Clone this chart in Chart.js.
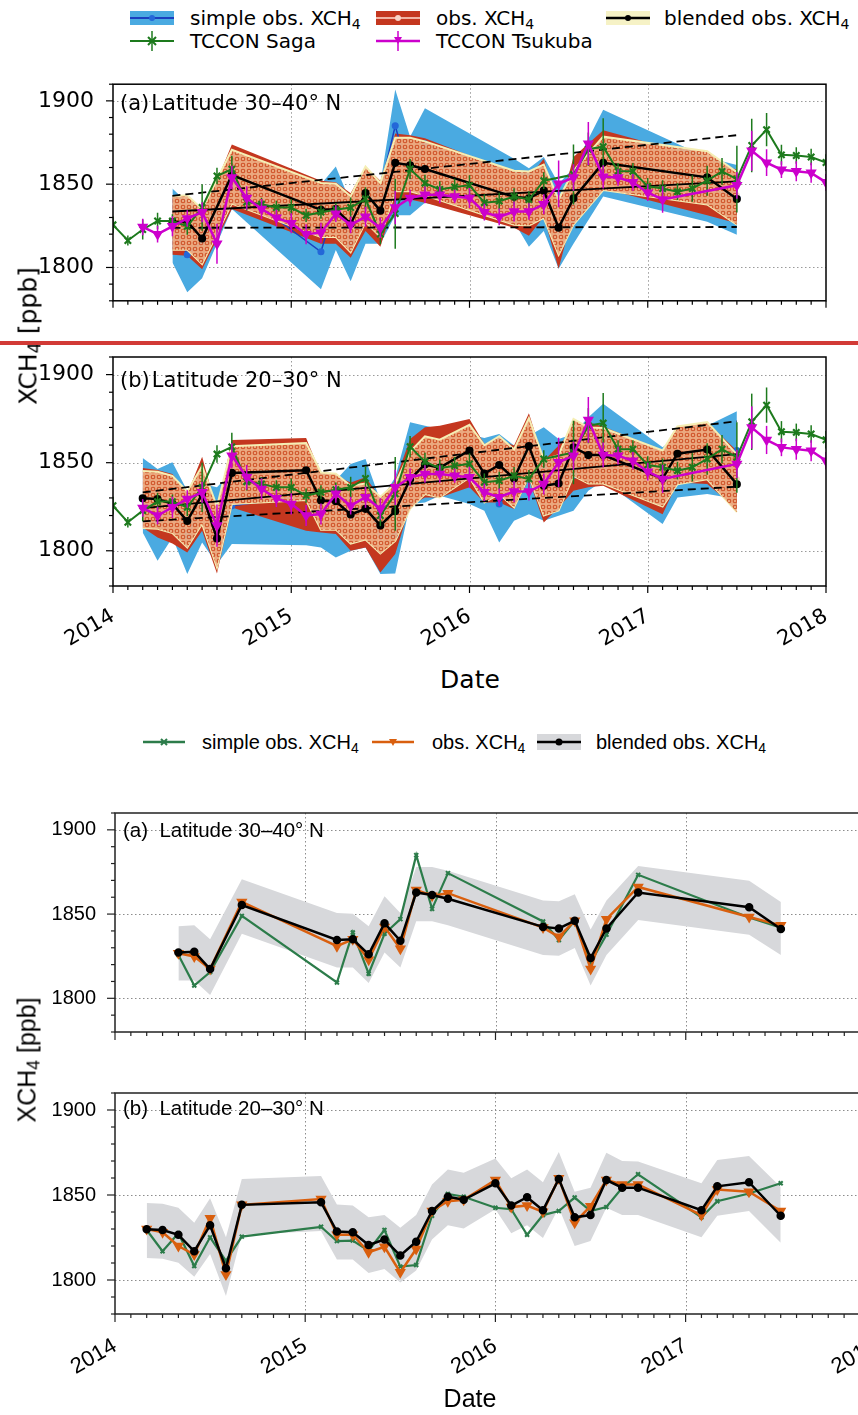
<!DOCTYPE html>
<html>
<head>
<meta charset="utf-8">
<script src="https://cdn.jsdelivr.net/npm/chart.js@4.4.1/dist/chart.umd.min.js"></script>
<style>
html, body { margin: 0; padding: 0; background: #fff; }
#page { position: relative; width: 858px; height: 1415px; overflow: hidden; background: #fff; }
canvas { position: absolute; left: 0; }
.t { position: absolute; white-space: nowrap; color: #000; line-height: 1; transform: translateY(-50%); }
.dv { font-family: 'DejaVu Sans', sans-serif; }
.lb { font-family: 'Liberation Sans', Arial, sans-serif; }
.yt { transform: translate(-50%, -50%) rotate(-90deg); }
.cx { transform: translate(-50%, -50%); }
sub { font-size: 0.7em; vertical-align: -0.25em; line-height: 0; }
svg { position: absolute; }
#redline { position: absolute; left: 0; top: 341px; width: 858px; height: 4px; background: #d23a36; }
</style>
</head>
<body>
<div id="page">
  <canvas id="topA" width="858" height="265" style="top:60px"></canvas>
  <canvas id="topB" width="858" height="330" style="top:330px"></canvas>
  <canvas id="botA" width="900" height="265" style="top:790px"></canvas>
  <canvas id="botB" width="900" height="315" style="top:1070px"></canvas>

  <!-- top legend -->
  <svg style="left:130px;top:9px" width="44" height="18"><rect x="0" y="2" width="44" height="14" fill="#4aaae1"/><line x1="0" y1="9" x2="44" y2="9" stroke="#1a3fbf" stroke-width="2"/><circle cx="22" cy="9" r="3" fill="#2468d8"/></svg>
  <div class="t dv" style="left:190px;top:18px;font-size:20px">simple obs. XCH<sub>4</sub></div>
  <svg style="left:376px;top:9px" width="44" height="18"><rect x="0" y="2" width="44" height="14" fill="#c4371f"/><line x1="0" y1="9" x2="44" y2="9" stroke="#f0b4a4" stroke-width="2"/><circle cx="22" cy="9" r="3" fill="#f8d4c8"/></svg>
  <div class="t dv" style="left:436px;top:18px;font-size:20px">obs. XCH<sub>4</sub></div>
  <svg style="left:606px;top:9px" width="44" height="18"><rect x="0" y="2" width="44" height="14" fill="#f6f2c6"/><line x1="0" y1="9" x2="44" y2="9" stroke="#000" stroke-width="2.5"/><circle cx="22" cy="9" r="3" fill="#000"/></svg>
  <div class="t dv" style="left:664px;top:18px;font-size:20px">blended obs. XCH<sub>4</sub></div>
  <svg style="left:130px;top:31px" width="44" height="20"><line x1="0" y1="10" x2="44" y2="10" stroke="#1d7a1d" stroke-width="2"/><line x1="22" y1="0" x2="22" y2="20" stroke="#1d7a1d" stroke-width="1.5"/><path d="M18 6 L26 14 M26 6 L18 14" stroke="#1d7a1d" stroke-width="2"/></svg>
  <div class="t dv" style="left:190px;top:41px;font-size:20px">TCCON Saga</div>
  <svg style="left:376px;top:31px" width="44" height="20"><line x1="0" y1="10" x2="44" y2="10" stroke="#cc00cc" stroke-width="2.5"/><line x1="22" y1="0" x2="22" y2="20" stroke="#cc00cc" stroke-width="1.5"/><path d="M18 6 L26 6 L22 13 Z" fill="#cc00cc"/></svg>
  <div class="t dv" style="left:436px;top:41px;font-size:20px">TCCON Tsukuba</div>

  <div class="t dv" style="left:120px;top:103px;font-size:21px">(a)&#8202;Latitude 30–40° N</div>
  <div class="t dv" style="left:120px;top:380px;font-size:21px">(b)&#8202;Latitude 20–30° N</div>
  <div class="t dv yt" style="left:28px;top:336px;font-size:25px">XCH<sub>4</sub> [ppb]</div>
  <div class="t dv cx" style="left:470px;top:679px;font-size:25px">Date</div>

  <div id="redline"></div>

  <!-- bottom legend -->
  <svg style="left:143px;top:734px" width="42" height="16"><line x1="0" y1="8" x2="42" y2="8" stroke="#2c7c4a" stroke-width="2.5"/><path d="M18 5 L24 11 M24 5 L18 11" stroke="#2c7c4a" stroke-width="2"/></svg>
  <div class="t lb" style="left:202px;top:742px;font-size:20px">simple obs. XCH<sub>4</sub></div>
  <svg style="left:372px;top:734px" width="42" height="16"><line x1="0" y1="8" x2="42" y2="8" stroke="#d95f0e" stroke-width="2.5"/><path d="M17 5 L25 5 L21 12 Z" fill="#d95f0e"/></svg>
  <div class="t lb" style="left:432px;top:742px;font-size:20px">obs. XCH<sub>4</sub></div>
  <svg style="left:537px;top:734px" width="44" height="16"><rect x="0" y="0" width="44" height="16" fill="#d7d8db"/><line x1="0" y1="8" x2="44" y2="8" stroke="#000" stroke-width="2.5"/><circle cx="22" cy="8" r="3.5" fill="#000"/></svg>
  <div class="t lb" style="left:596px;top:742px;font-size:20px">blended obs. XCH<sub>4</sub></div>

  <div class="t lb" style="left:123px;top:830px;font-size:20.5px">(a)&nbsp; Latitude 30–40° N</div>
  <div class="t lb" style="left:123px;top:1108px;font-size:20.5px">(b)&nbsp; Latitude 20–30° N</div>
  <div class="t lb yt" style="left:27px;top:1060px;font-size:25px">XCH<sub>4</sub> [ppb]</div>
  <div class="t lb cx" style="left:470px;top:1398px;font-size:25px">Date</div>
</div>

<script>
// axis ticks
const yearTicks = [2014, 2015, 2016, 2017, 2018];
const ppbTicks = [1800, 1850, 1900];

// satellite months, 30-40 N
const monthsA = ['2014-05','2014-06','2014-07','2014-09','2015-03','2015-04','2015-05','2015-06','2015-07','2015-08',
                 '2015-09','2015-10','2016-04','2016-05','2016-06','2016-07','2016-08','2016-10','2017-05','2017-07'];
const simpleA = [1825.7,1807.6,1815.6,1848.9,1809.4,1839.1,1814.6,1838.3,1847.0,1885.0,1853.1,1874.3,1845.6,1834.6,1846.1,1821.1,1837.8,1873.3,1848.0,1841.9];
const obsA    = [1826.7,1824.8,1817.4,1857.2,1830.9,1835.0,1822.9,1842.4,1829.4,1864.3,1860.9,1862.4,1842.0,1836.5,1846.1,1817.4,1847.0,1866.1,1848.3,1843.3];
const blendA  = [1827.2,1827.6,1817.4,1855.4,1834.6,1835.0,1826.1,1844.6,1834.1,1862.8,1861.3,1859.1,1842.4,1841.5,1846.1,1823.9,1841.5,1862.8,1854.1,1841.1];
const simpleUpA = [1847.4,1838.9,1832.0,1866.0,1850.0,1860.6,1838.9,1860.6,1850.2,1906.8,1878.5,1895.5,1865.3,1859.6,1866.3,1850.2,1859.6,1894.6,1866.0,1861.5];
const simpleLoA = [1803.0,1785.1,1793.5,1835.1,1787.0,1810.5,1791.7,1814.3,1814.3,1831.3,1831.3,1838.9,1827.5,1812.5,1821.9,1799.2,1814.3,1842.6,1827.5,1819.6];
const obsUpA  = [1843.6,1838.9,1830.4,1873.8,1852.1,1851.1,1844.5,1860.6,1852.1,1880.4,1879.4,1877.6,1856.8,1854.0,1865.3,1833.2,1866.3,1882.3,1865.3,1858.7];
const obsLoA  = [1807.7,1807.1,1798.9,1835.1,1814.3,1814.3,1805.8,1821.9,1812.5,1840.8,1840.8,1838.9,1823.8,1819.0,1830.4,1799.2,1833.2,1847.4,1831.3,1826.6];
const blendUpA = [1842.8,1843.3,1835.0,1870.6,1850.7,1850.2,1842.8,1860.6,1850.7,1877.9,1877.9,1875.7,1858.1,1857.6,1861.8,1840.9,1858.1,1878.5,1869.8,1857.2];
const blendLoA = [1810.6,1810.6,1802.0,1838.3,1818.3,1818.3,1809.1,1827.2,1818.3,1845.7,1845.7,1843.3,1825.7,1825.2,1829.8,1807.6,1825.7,1846.5,1837.8,1825.7];

// satellite months, 20-30 N
const monthsB = ['2014-03','2014-04','2014-05','2014-06','2014-07','2014-08','2014-09',
                 '2015-02','2015-03','2015-04','2015-05','2015-06','2015-07','2015-08','2015-09','2015-10','2015-11',
                 '2016-01','2016-02','2016-03','2016-04','2016-05','2016-06','2016-07','2016-08','2016-09','2016-10',
                 '2017-02','2017-03','2017-05','2017-07'];
const simpleB = [1829.4,1816.9,1827.5,1808.2,1825.1,1811.2,1825.5, 1831.3,1822.9,1823.2,1817.2,1829.4,1807.9,1808.8,1837.8,1850.6,1849.0,
                 1842.5,1841.6,1826.6,1838.2,1840.6,1848.5,1840.6,1842.9,1854.3,1862.2, 1836.9,1846.3,1850.9,1856.9];
const obsB    = [1830.0,1828.1,1820.0,1815.0,1836.3,1803.2,1844.2, 1847.6,1826.6,1826.6,1816.3,1819.5,1804.5,1818.2,1840.6,1846.3,1847.2,
                 1858.8,1842.9,1843.8,1840.1,1859.9,1833.7,1843.4,1858.8,1856.2,1856.2, 1838.2,1853.2,1851.9,1840.6];
const blendB  = [1829.8,1829.4,1826.6,1816.9,1832.2,1806.9,1844.2, 1845.7,1828.5,1828.1,1820.6,1823.8,1814.4,1822.5,1840.6,1849.0,1847.2,
                 1856.9,1843.8,1848.7,1841.0,1859.4,1836.9,1838.2,1858.8,1854.3,1854.3, 1841.0,1855.1,1857.5,1837.8];
const simpleUpB = [1852.7,1846.4,1850.2,1834.1,1837.9,1836.0,1845.0, 1850.0,1845.0,1840.0,1849.2,1852.1,1828.4,1841.7,1872.9,1871.0,1869.1,
                   1866.0,1864.0,1866.3,1859.7,1865.3,1870.1,1863.5,1866.3,1875.8,1883.4, 1858.7,1865.3,1871.0,1879.2];
const simpleLoB = [1810.4,1794.3,1807.6,1786.8,1804.7,1792.4,1803.8, 1803.2,1801.9,1796.2,1800.0,1801.9,1786.8,1787.1,1826.5,1827.4,1831.2,
                   1826.5,1822.7,1804.7,1817.0,1820.8,1817.0,1819.9,1822.7,1834.1,1839.8, 1815.2,1830.3,1832.2,1829.4];
const obsUpB  = [1847.0,1845.8,1843.6,1832.2,1853.4,1822.7,1862.9, 1864.0,1843.6,1842.4,1838.8,1841.7,1830.3,1839.8,1863.5,1870.1,1871.0,
                 1874.8,1860.6,1862.9,1859.7,1878.0,1851.1,1859.7,1869.1,1872.9,1870.5, 1856.8,1870.1,1872.9,1856.8];
const obsLoB  = [1813.2,1807.6,1804.1,1799.0,1811.4,1787.1,1824.6, 1811.4,1810.4,1809.5,1800.0,1801.9,1787.7,1798.1,1825.6,1830.3,1830.3,
                 1836.0,1827.4,1827.4,1823.7,1840.7,1816.1,1824.6,1834.1,1836.0,1836.9, 1820.8,1838.8,1837.9,1823.7];
const blendUpB = [1845.3,1844.9,1842.5,1833.7,1848.1,1825.1,1859.4, 1861.2,1844.4,1843.8,1836.9,1838.2,1830.7,1838.2,1856.2,1865.0,1863.1,
                  1871.5,1859.9,1865.0,1857.5,1875.3,1851.9,1854.3,1874.9,1870.0,1869.7, 1856.9,1870.6,1873.0,1854.7];
const blendLoB = [1812.9,1812.5,1810.1,1801.9,1815.3,1790.6,1826.6, 1828.8,1812.0,1812.0,1804.1,1806.4,1798.5,1805.6,1823.8,1832.2,1830.3,
                  1841.6,1827.5,1832.2,1824.7,1842.5,1820.0,1822.9,1842.5,1838.2,1838.2, 1825.1,1837.8,1840.6,1821.9];

// trend lines (start / end)
const trendMonthsA = ['2014-05', '2017-07'];
const trendA = [1833.6, 1851.7];
const trendUpA = [1843.0, 1879.4];
const trendLoA = [1823.8, 1824.3];
const trendMonthsB = ['2014-03', '2017-07'];
const trendB = [1824.2, 1854.9];
const trendUpB = [1833.1, 1873.5];
const trendLoB = [1816.7, 1836.4];

// TCCON sites (same in both panels)
const sagaMonths = ['2014-01','2014-02','2014-03','2014-04','2014-05','2014-06','2014-07','2014-08','2014-09','2014-10','2014-11','2014-12',
                    '2015-01','2015-02','2015-03','2015-04','2015-05','2015-06','2015-07','2015-08','2015-09','2015-10','2015-11','2015-12',
                    '2016-01','2016-02','2016-03','2016-04','2016-05','2016-06','2016-08','2016-09','2016-10','2016-11','2016-12',
                    '2017-01','2017-02','2017-03','2017-04','2017-05','2017-06','2017-07','2017-08','2017-09','2017-10','2017-11','2017-12','2018-01'];
const sagaVals = [1825.6,1816.2,1822.8,1827.9,1827.9,1824.7,1836.0,1854.9,1859.0,1839.2,1837.9,1836.0,
                  1836.0,1831.3,1833.2,1834.7,1836.0,1841.1,1820.0,1832.3,1859.1,1850.6,1846.8,1848.3,
                  1849.3,1838.9,1839.8,1842.6,1840.8,1852.1,1855.8,1871.0,1872.5,1857.7,1857.7,
                  1848.7,1847.4,1845.5,1847.4,1852.1,1857.7,1853.0,1873.2,1882.7,1867.6,1867.2,1866.3,1863.0];
const sagaErr = [5,3,6,5,4,5,14,5,8,5,4,4,
                 5,4,4,4,6,7,6,21,6,5,5,5,
                 6,5,5,5,5,5,18,10,17,5,5,
                 5,5,5,8,9,8,20,16,10,6,5,5,5];
const tsukubaMonths = ['2014-03','2014-04','2014-05','2014-06','2014-07','2014-08','2014-09','2014-10','2014-11','2014-12',
                       '2015-01','2015-02','2015-03','2015-04','2015-05','2015-06','2015-07','2015-08','2015-09','2015-10','2015-11','2015-12',
                       '2016-01','2016-02','2016-03','2016-04','2016-05','2016-06','2016-07','2016-08','2016-09','2016-10','2016-11','2016-12',
                       '2017-01','2017-02','2017-07','2017-08','2017-09','2017-10','2017-11','2017-12','2018-01'];
const tsukubaVals = [1824.3,1820.0,1824.7,1829.4,1833.2,1814.3,1854.0,1841.7,1835.1,1829.8,
                     1826.6,1820.0,1820.9,1832.3,1825.6,1830.4,1823.8,1836.0,1841.7,1843.6,1843.6,1842.6,
                     1841.7,1833.2,1830.4,1833.6,1833.6,1837.9,1850.2,1854.0,1874.3,1854.4,1854.0,1851.1,
                     1844.9,1840.8,1849.3,1870.0,1862.9,1858.7,1857.7,1856.8,1851.1];
const tsukubaErr = [5,5,6,5,6,12,7,7,6,5,
                    6,6,6,5,5,6,6,10,5,5,5,4,
                    6,5,5,6,5,6,14,8,13,7,5,5,
                    5,8,8,12,8,5,6,6,5];

function toYear(m) {
    const [yy, mm] = m.split('-').map(Number);
    return yy + (mm - 1) / 12;
}
function pts(months, vals) {
    return months.map((m, i) => ({ x: toYear(m), y: vals[i] }));
}

// grid, frame and minor ticks like the original figure
const deco = {
    id: 'deco',
    beforeDatasetsDraw(chart, args, opts) {
        const { ctx, chartArea: a, scales: { x, y } } = chart;
        ctx.save();
        ctx.strokeStyle = opts.gridColor;
        ctx.lineWidth = 1;
        ctx.setLineDash([1.5, 2.5]);
        yearTicks.slice(1, -1).forEach(v => {
            const px = Math.round(x.getPixelForValue(v)) + 0.5;
            ctx.beginPath(); ctx.moveTo(px, a.top); ctx.lineTo(px, a.bottom); ctx.stroke();
        });
        ppbTicks.forEach(v => {
            const py = Math.round(y.getPixelForValue(v)) + 0.5;
            ctx.beginPath(); ctx.moveTo(a.left, py); ctx.lineTo(a.right, py); ctx.stroke();
        });
        ctx.restore();
    },
    afterDraw(chart, args, opts) {
        const { ctx, chartArea: a, scales: { x, y } } = chart;
        ctx.save();
        ctx.strokeStyle = opts.frameColor;
        ctx.lineWidth = 1.5;
        ctx.strokeRect(a.left, a.top, a.right - a.left, a.bottom - a.top);
        ctx.lineWidth = 1.2;
        for (let k = 0; k <= 48; k++) {
            const px = x.getPixelForValue(2014 + k / 12);
            const len = k % 12 === 0 ? opts.major : opts.minor;
            ctx.beginPath(); ctx.moveTo(px, a.bottom); ctx.lineTo(px, a.bottom + len); ctx.stroke();
        }
        for (let v = 1780; v <= 1910; v += 10) {
            const py = y.getPixelForValue(v);
            const len = v % 50 === 0 ? opts.major : opts.minor;
            ctx.beginPath(); ctx.moveTo(a.left, py); ctx.lineTo(a.left - len, py); ctx.stroke();
        }
        ctx.restore();
    }
};

// vertical error bars for TCCON data
const errorBars = {
    id: 'errorBars',
    beforeDatasetDraw(chart, args) {
        const ds = chart.data.datasets[args.index];
        if (!ds.errors) return;
        const { ctx, chartArea: a, scales: { x, y } } = chart;
        ctx.save();
        ctx.beginPath(); ctx.rect(a.left, a.top, a.right - a.left, a.bottom - a.top); ctx.clip();
        ctx.strokeStyle = ds.borderColor;
        ctx.lineWidth = 1.5;
        ds.data.forEach((p, i) => {
            const px = x.getPixelForValue(p.x);
            ctx.beginPath();
            ctx.moveTo(px, y.getPixelForValue(p.y - ds.errors[i]));
            ctx.lineTo(px, y.getPixelForValue(p.y + ds.errors[i]));
            ctx.stroke();
        });
        ctx.restore();
    }
};

function makeOptions(o) {
    const font = { family: o.font, size: o.tickSize };
    return {
        responsive: false,
        animation: false,
        events: [],
        layout: { padding: { top: o.top, right: o.right, left: 0, bottom: 0 } },
        plugins: {
            legend: { display: false },
            tooltip: { enabled: false },
            deco: { gridColor: o.gridColor, frameColor: o.frameColor, major: o.major, minor: 4 }
        },
        elements: { line: { tension: 0 } },
        scales: {
            x: {
                type: 'linear', min: 2014, max: 2018,
                afterBuildTicks: s => { s.ticks = yearTicks.map(v => ({ value: v })); },
                afterFit: s => { s.height = o.xHeight; },
                grid: { display: false },
                border: { display: false },
                ticks: {
                    display: o.xLabels, autoSkip: false, minRotation: 30, maxRotation: 30,
                    padding: o.xPad, color: '#000', font: { family: o.font, size: o.xTickSize || o.tickSize },
                    callback: v => String(v)
                }
            },
            y: {
                type: 'linear', min: 1780, max: 1910,
                afterBuildTicks: s => { s.ticks = ppbTicks.map(v => ({ value: v })); },
                afterFit: s => { s.width = o.left; },
                grid: { display: false },
                border: { display: false },
                ticks: { padding: 11, color: '#000', font: font, callback: v => String(v) }
            }
        }
    };
}

function band(data, color, order, edge) {
    return {
        data: data, fill: '+1', backgroundColor: color, order: order,
        borderColor: edge || 'rgba(0,0,0,0)', borderWidth: edge ? 2 : 0, pointRadius: 0
    };
}
function bandLow(data, order, edge) {
    return {
        data: data, fill: false, order: order,
        borderColor: edge || 'rgba(0,0,0,0)', borderWidth: edge ? 2 : 0, pointRadius: 0
    };
}
function line(data, color, width, order, extra) {
    return Object.assign({
        data: data, borderColor: color, borderWidth: width, order: order, fill: false,
        pointRadius: 0, pointBackgroundColor: color, pointBorderColor: color
    }, extra || {});
}

function hatchPattern(ctx) {
    const tile = document.createElement('canvas');
    tile.width = 6; tile.height = 6;
    const g = tile.getContext('2d');
    g.fillStyle = 'rgba(238,176,134,0.93)';
    g.fillRect(0, 0, 6, 6);
    g.strokeStyle = 'rgba(204,78,36,0.95)';
    g.lineWidth = 1.1;
    g.beginPath(); g.arc(3, 3, 1.8, 0, Math.PI * 2); g.stroke();
    return ctx.createPattern(tile, 'repeat');
}

function topDatasets(ctx, m, s, o, b, sUp, sLo, oUp, oLo, bUp, bLo, tm, tr, tUp, tLo) {
    const hatch = hatchPattern(ctx);
    const dashed = { borderDash: [8, 5] };
    return [
        band(pts(m, sUp), '#4aaae1', 20), bandLow(pts(m, sLo), 20),
        band(pts(m, oUp), '#c4371f', 18), bandLow(pts(m, oLo), 18),
        line(pts(m, s), '#1a3fbf', 1.5, 16, { pointRadius: 2.8, pointBackgroundColor: '#2468d8', pointBorderColor: '#2468d8' }),
        line(pts(m, o), '#f0b4a4', 1.5, 15, { pointRadius: 2.3, pointBackgroundColor: '#f8d4c8', pointBorderColor: '#f8d4c8' }),
        band(pts(m, bUp), hatch, 12, '#f5eeb4'), bandLow(pts(m, bLo), 12, '#f5eeb4'),
        line(pts(tm, tUp), '#000', 1.8, 8, dashed),
        line(pts(tm, tLo), '#000', 1.8, 8, dashed),
        line(pts(tm, tr), '#000', 1.8, 8),
        line(pts(m, b), '#000', 2.5, 6, { pointRadius: 2.8 }),
        line(pts(sagaMonths, sagaVals), '#1d7a1d', 2, 4,
             { pointRadius: 4.5, pointStyle: 'crossRot', pointBorderWidth: 2.2, errors: sagaErr }),
        line(pts(tsukubaMonths, tsukubaVals), '#cc00cc', 2.5, 2,
             { pointRadius: 4, pointStyle: 'triangle', pointRotation: 180, errors: tsukubaErr })
    ];
}

function bottomDatasets(m, s, o, b, bUp, bLo) {
    return [
        band(pts(m, bUp), '#d7d8db', 20), bandLow(pts(m, bLo), 20),
        line(pts(m, s), '#2c7c4a', 2.2, 10, { pointRadius: 2.8, pointStyle: 'crossRot', pointBorderWidth: 2 }),
        line(pts(m, o), '#d95f0e', 2.5, 8, { pointRadius: 4, pointStyle: 'triangle', pointRotation: 180 }),
        line(pts(m, b), '#000', 2.5, 6, { pointRadius: 3 })
    ];
}

const topStyle = { font: 'DejaVu Sans', tickSize: 22, xTickSize: 21, left: 113, right: 32, gridColor: '#9a9a9a', frameColor: '#000', major: 7, xPad: 10 };
const botStyle = { font: 'Liberation Sans', tickSize: 20, xTickSize: 22, left: 115, right: 24, gridColor: '#8c8c8c', frameColor: '#222', major: 8, xPad: 11 };

const ctxTA = document.getElementById('topA').getContext('2d');
new Chart(ctxTA, {
    type: 'line',
    data: { datasets: topDatasets(ctxTA, monthsA, simpleA, obsA, blendA, simpleUpA, simpleLoA, obsUpA, obsLoA, blendUpA, blendLoA,
                                  trendMonthsA, trendA, trendUpA, trendLoA) },
    options: makeOptions(Object.assign({}, topStyle, { top: 23, xHeight: 15, xLabels: false })),
    plugins: [deco, errorBars]
});

const ctxTB = document.getElementById('topB').getContext('2d');
new Chart(ctxTB, {
    type: 'line',
    data: { datasets: topDatasets(ctxTB, monthsB, simpleB, obsB, blendB, simpleUpB, simpleLoB, obsUpB, obsLoB, blendUpB, blendLoB,
                                  trendMonthsB, trendB, trendUpB, trendLoB) },
    options: makeOptions(Object.assign({}, topStyle, { top: 27, xHeight: 74, xLabels: true })),
    plugins: [deco, errorBars]
});

new Chart(document.getElementById('botA'), {
    type: 'line',
    data: { datasets: bottomDatasets(monthsA, simpleA, obsA, blendA, blendUpA, blendLoA) },
    options: makeOptions(Object.assign({}, botStyle, { top: 16, xHeight: 17, xLabels: false })),
    plugins: [deco]
});

new Chart(document.getElementById('botB'), {
    type: 'line',
    data: { datasets: bottomDatasets(monthsB, simpleB, obsB, blendB, blendUpB, blendLoB) },
    options: makeOptions(Object.assign({}, botStyle, { top: 13, xHeight: 71, xLabels: true })),
    plugins: [deco]
});
</script>
</body>
</html>
